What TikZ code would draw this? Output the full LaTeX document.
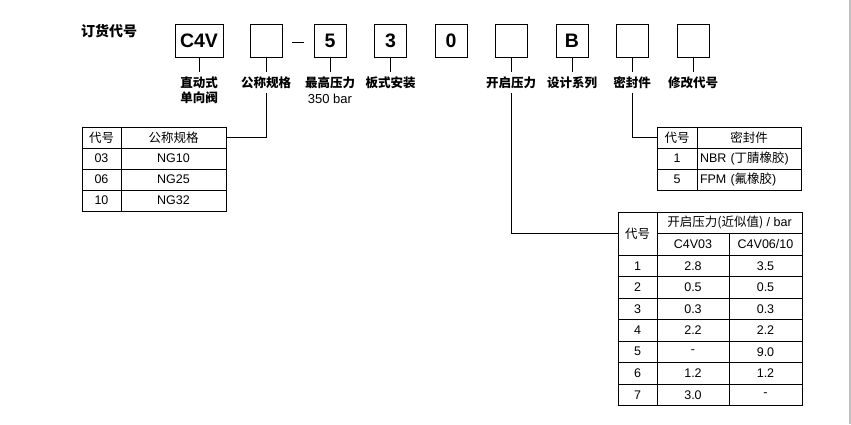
\documentclass[tikz,border=0pt]{standalone}
\usepackage{fontspec}
\setmainfont{Liberation Sans}
\newfontfamily\cjk{Noto Sans CJK SC}
\newcommand{\zh}[1]{{\cjk #1}}
\usetikzlibrary{positioning}

\tikzset{
  codebox/.style={draw, line width=1pt, minimum width=32pt, minimum height=33pt, inner sep=0pt, font=\bfseries\fontsize{19.5}{20}\selectfont},
  lab/.style={anchor=north, inner xsep=1pt, inner ysep=4.5pt, align=center, font=\cjk\bfseries\fontsize{12.5}{15.5}\selectfont},
  cell/.style={draw, line width=0.8pt, minimum height=21pt, inner sep=0pt, font=\fontsize{12.5}{14}\selectfont},
  tick/.style={line width=1pt},
}

\begin{document}
\begin{tikzpicture}[x=1pt,y=-1pt]
	\useasboundingbox (0,0) rectangle (851,424);
	
	% 右侧灰线
	\draw[black!25, line width=1.5pt] (850,0) -- (850,424);
	
	% 标题
	\node[anchor=west, inner sep=0pt, font=\cjk\bfseries\fontsize{14}{14}\selectfont] (title) at (81,31) {订货代号};
	
	% 代号方框
	\node[codebox, minimum width=48pt] (b1) at (199,41) {C4V};
	\node[codebox] (b2) at (266,41) {};
	\draw[line width=1pt] (292,42) -- (304,42);
	\foreach \n/\x/\t in {3/330/5, 4/390.5/3, 5/451/0, 6/511/{}, 7/572/B, 8/632/{}, 9/693/{}}
		\node[codebox] (b\n) at (\x,41) {\t};
	
	% 方框下的说明
	\node[lab] (l1) at (199,72) {直动式\\单向阀};
	\node[lab] (l2) at (266,72) {公称规格};
	\node[lab] (l3) at (330,72) {最高压力\\{\rmfamily\mdseries\fontsize{13}{15.5}\selectfont 350 bar}};
	\node[lab] (l4) at (390.5,72) {板式安装};
	\node[lab] (l6) at (511,72) {开启压力};
	\node[lab] (l7) at (572,72) {设计系列};
	\node[lab] (l8) at (632,72) {密封件};
	\node[lab] (l9) at (693,72) {修改代号};
	\foreach \i in {1,2,3,4,6,7,8,9}
		\draw[tick] (b\i.south) -- (l\i.north);
	
	% 公称规格表
	\node[cell, minimum width=39pt] (nc0) at (101.5,137.5) {\zh{代号}};
	\node[cell, minimum width=105pt] (nv0) at (173.5,137.5) {\zh{公称规格}};
	\foreach \c/\v [count=\i] in {03/NG10, 06/NG25, 10/NG32}{
		\node[cell, minimum width=39pt] (nc\i) at (101.5,137.5+21*\i) {\c};
		\node[cell, minimum width=105pt] (nv\i) at (173.5,137.5+21*\i) {\v};
	}
	\draw[tick] (l2.south) |- (nv0.east);
	
	% 密封件表
	\node[cell, minimum width=40pt] (sc0) at (677,137.5) {\zh{代号}};
	\node[cell, minimum width=104pt] (sv0) at (749,137.5) {\zh{密封件}};
	\foreach \c/\v [count=\i] in {1/{NBR (\zh{丁腈橡胶})}, 5/{FPM (\zh{氟橡胶})}}{
		\node[cell, minimum width=40pt] (sc\i) at (677,137.5+21*\i) {\c};
		\node[cell, text width=98pt, inner xsep=3pt, align=left] (sv\i) at (749,137.5+21*\i) {\v};
	}
	\draw[tick] (l8.south) |- (sc0.west);
	
	% 开启压力表
	\node[cell, minimum width=39pt, minimum height=43pt] (pc0) at (637.5,233.5) {\zh{代号}};
	\node[cell, minimum width=145pt, minimum height=21.5pt] (ph) at (729.5,222.75) {\zh{开启压力(近似值)} / bar};
	\node[cell, minimum width=72pt, minimum height=21.5pt] (pa0) at (693,244.25) {C4V03};
	\node[cell, minimum width=73pt, minimum height=21.5pt] (pb0) at (765.5,244.25) {C4V06/10};
	\foreach \a/\b [count=\i] in {2.8/3.5, 0.5/0.5, 0.3/0.3, 2.2/2.2, -/9.0, 1.2/1.2, 3.0/-}{
		\node[cell, minimum width=39pt, minimum height=21.5pt] (pc\i) at (637.5,244.25+21.5*\i) {\i};
		\node[cell, minimum width=72pt, minimum height=21.5pt] (pa\i) at (693,244.25+21.5*\i) {\a};
		\node[cell, minimum width=73pt, minimum height=21.5pt] (pb\i) at (765.5,244.25+21.5*\i) {\b};
	}
	\draw[tick] (l6.south) |- (pc0.west);
	
\end{tikzpicture}
\end{document}
